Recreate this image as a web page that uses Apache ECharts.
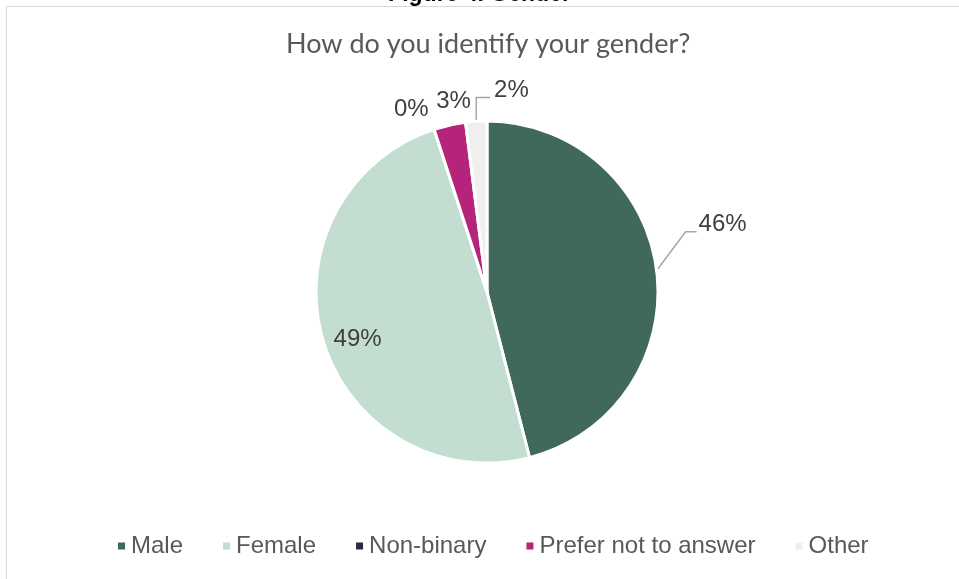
<!DOCTYPE html>
<html>
<head>
<meta charset="utf-8">
<script src="https://cdn.jsdelivr.net/npm/echarts@6/dist/echarts.min.js"></script>
<style>
  html, body { margin: 0; padding: 0; background: #ffffff; }
  #chart { width: 959px; height: 579px; }
</style>
</head>
<body>
<div id="chart"></div>
<script>
// Survey responses: share of respondents per gender answer (percent)
const categories = ['Male', 'Female', 'Non-binary', 'Prefer not to answer', 'Other'];
const shares = [46, 49, 0, 3, 2];
const colors = ['#41695b', '#c3ddd1', '#282b46', '#b5237b', '#efefef'];

const figureTitle = 'Figure 4. Gender';
const chartTitle = 'How do you identify your gender?';

const labelFont = { fontFamily: '"Liberation Sans", Arial, sans-serif', fontSize: 24, color: '#404040' };

// Label nudges (dx, dy) per slice, keeping the outside labels clear of each other
const labelShift = [
  { dx: 19, dy: -45, line: 'elbow' },
  { dx: 0, dy: 0, line: null },
  { dx: 12, dy: -12, line: null },
  { dx: 38, dy: -16, line: null },
  { dx: 68, dy: -23, line: 'riser' }
];

// Leader line from the slice edge to the bottom-left of its shifted label
function leaderPoints(p, s) {
  const r = p.labelRect;
  const left = r.x + s.dx;
  const lineY = r.y + s.dy + r.height * 0.8;
  const p0 = p.labelLinePoints[0];
  if (s.line === 'elbow') {
    return [p0.slice(), [left - 13, lineY], [left - 2, lineY]];
  }
  return [p0.slice(), [p0[0], lineY], [left - 4, lineY]];
}

const pieData = categories.map((name, i) => ({
  name,
  value: shares[i],
  itemStyle: { color: colors[i] },
  label: { show: i !== 1 },
  labelLine: { show: labelShift[i].line !== null }
}));

// Transparent ring over the outer part of the pie; carries the in-slice label
const ringData = categories.map((name, i) => ({
  name,
  value: shares[i],
  label: { show: i === 1 }
}));

const chart = echarts.init(document.getElementById('chart'), null, { renderer: 'canvas' });

chart.setOption({
  animation: false,
  backgroundColor: '#ffffff',
  title: {
    text: chartTitle,
    left: 281,
    top: 26,
    textStyle: {
      fontFamily: 'Lato, "DejaVu Sans", sans-serif',
      fontWeight: 'normal',
      fontSize: 27,
      color: '#595959'
    }
  },
  legend: {
    data: categories,
    bottom: 16,
    left: 111,
    icon: 'rect',
    itemWidth: 9,
    itemHeight: 9,
    itemGap: 38,
    textStyle: { fontFamily: '"Liberation Sans", Arial, sans-serif', fontSize: 24, color: '#595959' },
    selectedMode: false
  },
  graphic: [
    {
      type: 'rect',
      shape: { x: 6.5, y: 6.5, width: 1000, height: 1000 },
      style: { fill: 'none', stroke: '#d9d9d9', lineWidth: 1 },
      silent: true
    },
    {
      type: 'text',
      left: 'center',
      top: -17,
      style: {
        text: figureTitle,
        fontFamily: '"Liberation Sans", Arial, sans-serif',
        fontWeight: 'bold',
        fontSize: 23,
        fill: '#000000'
      },
      silent: true
    }
  ],
  series: [
    {
      type: 'pie',
      center: [487, 292],
      radius: [0, 171],
      startAngle: 90,
      clockwise: true,
      avoidLabelOverlap: false,
      itemStyle: { borderColor: '#ffffff', borderWidth: 3 },
      label: Object.assign({
        position: 'outside',
        formatter: p => p.value + '%'
      }, labelFont),
      labelLine: {
        length: 8,
        length2: 10,
        lineStyle: { color: '#a6a6a6', width: 1.5 }
      },
      labelLayout: p => {
        const s = labelShift[p.dataIndex];
        const out = { dx: s.dx, dy: s.dy };
        if (s.line) out.labelLinePoints = leaderPoints(p, s);
        return out;
      },
      emphasis: { disabled: true },
      data: pieData
    },
    {
      type: 'pie',
      center: [487, 292],
      radius: [103, 171],
      startAngle: 90,
      clockwise: true,
      silent: true,
      itemStyle: { color: 'rgba(0,0,0,0)' },
      label: Object.assign({
        position: 'inside',
        formatter: p => p.value + '%'
      }, labelFont),
      labelLine: { show: false },
      labelLayout: { dx: 5, dy: 8 },
      emphasis: { disabled: true },
      data: ringData
    }
  ]
});
</script>
</body>
</html>
